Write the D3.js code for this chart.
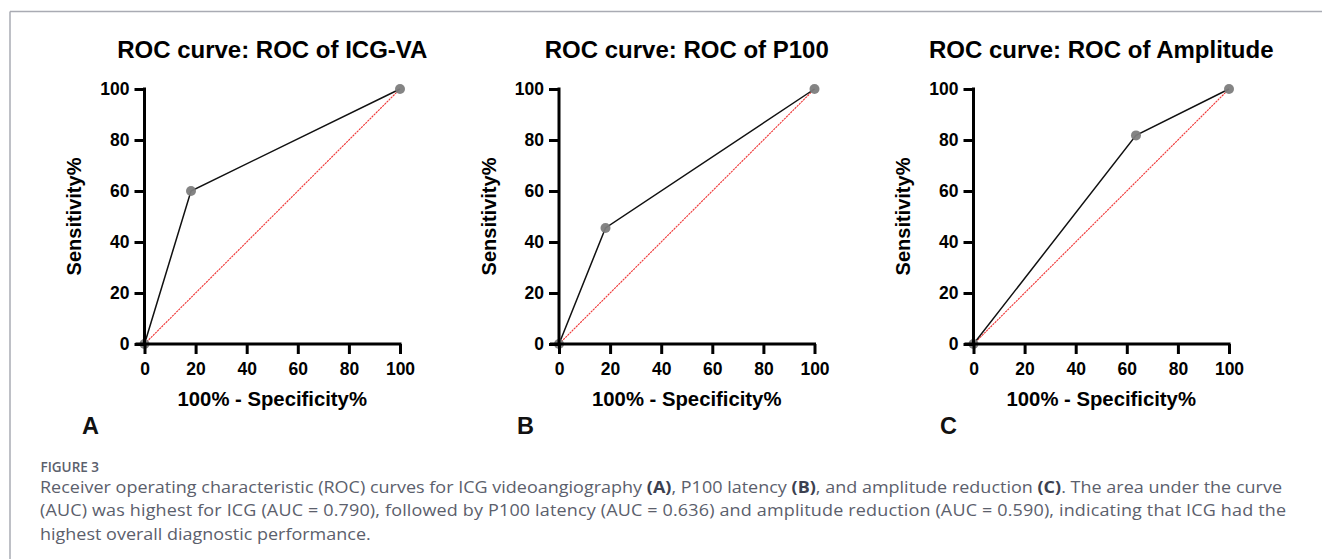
<!DOCTYPE html>
<html>
<head>
<meta charset="utf-8">
<script src="https://cdn.jsdelivr.net/npm/d3@7"></script>
<style>
  html, body { margin: 0; padding: 0; background: #fff; }
  svg { display: block; }
</style>
</head>
<body>
<svg id="chart" width="1322" height="559"></svg>
<script>
// ---- data ----
const panelTitles = ["ROC curve: ROC of ICG-VA", "ROC curve: ROC of P100", "ROC curve: ROC of Amplitude"];
const panelLetters = ["A", "B", "C"];
const fprICG = [0, 18.2, 100];
const sensICG = [0, 60, 100];
const fprP100 = [0, 18.2, 100];
const sensP100 = [0, 45.5, 100];
const fprAmp = [0, 63.6, 100];
const sensAmp = [0, 81.8, 100];
const tickValues = [0, 20, 40, 60, 80, 100];
const xLabel = "100% - Specificity%";
const yLabel = "Sensitivity%";
const captionHead = "FIGURE 3";
const captionLines = [
  [["Receiver operating characteristic (ROC) curves for ICG videoangiography ", false], ["(A)", true], [", P100 latency ", false], ["(B)", true], [", and amplitude reduction ", false], ["(C)", true], [". The area under the curve", false]],
  [["(AUC) was highest for ICG (AUC = 0.790), followed by P100 latency (AUC = 0.636) and amplitude reduction (AUC = 0.590), indicating that ICG had the", false]],
  [["highest overall diagnostic performance.", false]]
];

const series = [
  { fpr: fprICG, sens: sensICG },
  { fpr: fprP100, sens: sensP100 },
  { fpr: fprAmp, sens: sensAmp }
];

// ---- layout ----
const svg = d3.select("#chart");
const font = "'Liberation Sans', Arial, Helvetica, sans-serif";
const originsX = [144.5, 559, 973.5];
const letterX = [82, 517, 940];
const plotW = 255.5;
const yTop = 89, yBottom = 344;

// frame
svg.append("line").attr("x1", 10).attr("x2", 1322).attr("y1", 11.5).attr("y2", 11.5)
  .attr("stroke", "#a9abb3").attr("stroke-width", 1.5);
svg.append("line").attr("x1", 10).attr("x2", 10).attr("y1", 11.5).attr("y2", 559)
  .attr("stroke", "#a9abb3").attr("stroke-width", 1.5);

series.forEach((s, i) => {
  const x = d3.scaleLinear().domain([0, 100]).range([originsX[i], originsX[i] + plotW]);
  const y = d3.scaleLinear().domain([0, 100]).range([yBottom, yTop]);
  const g = svg.append("g");

  // title
  g.append("text").attr("x", (x(0) + x(100)) / 2).attr("y", 57.5)
    .attr("text-anchor", "middle").attr("font-family", font).attr("font-weight", "bold")
    .attr("font-size", 24).attr("fill", "#000").text(panelTitles[i]);

  // reference diagonal
  g.append("line").attr("x1", x(0)).attr("y1", y(0)).attr("x2", x(100)).attr("y2", y(100))
    .attr("stroke", "#ef3535").attr("stroke-width", 1.1).attr("stroke-dasharray", "2.2,0.8");

  // curve
  const pts = s.fpr.map((f, k) => [f, s.sens[k]]);
  g.append("path").datum(pts)
    .attr("d", d3.line().x(d => x(d[0])).y(d => y(d[1])))
    .attr("fill", "none").attr("stroke", "#111").attr("stroke-width", 1.5);

  // markers
  g.selectAll("circle.pt").data(pts).enter().append("circle")
    .attr("cx", d => x(d[0])).attr("cy", d => y(d[1])).attr("r", 5)
    .attr("fill", "#7d7d7d").attr("opacity", 0.95);

  // axes
  const xAxis = d3.axisBottom(x).tickValues(tickValues).tickSize(10).tickSizeOuter(0).tickPadding(9);
  const yAxis = d3.axisLeft(y).tickValues(tickValues).tickSize(10).tickSizeOuter(0).tickPadding(5);
  const gx = g.append("g").attr("transform", `translate(0,${yBottom})`).call(xAxis);
  const gy = g.append("g").attr("transform", `translate(${x(0)},0)`).call(yAxis);
  [gx, gy].forEach(a => {
    a.select(".domain").attr("stroke", "#000").attr("stroke-width", 3);
    a.selectAll(".tick line").attr("stroke", "#000").attr("stroke-width", 3);
    a.selectAll(".tick text").attr("font-family", font).attr("font-weight", "bold")
      .attr("font-size", 17.5).attr("fill", "#000");
  });
  gx.select(".domain").attr("d", `M${x(0) - 9},0H${x(100) + 1.5}`);
  gy.select(".domain").attr("d", `M0,${yBottom + 1.5}V${yTop - 1.5}`);

  // axis titles
  g.append("text").attr("x", (x(0) + x(100)) / 2).attr("y", 406)
    .attr("text-anchor", "middle").attr("font-family", font).attr("font-weight", "bold")
    .attr("font-size", 20.3).attr("fill", "#000").text(xLabel);
  g.append("text")
    .attr("transform", `translate(${x(0) - 63.5},${(y(0) + y(100)) / 2}) rotate(-90)`)
    .attr("text-anchor", "middle").attr("font-family", font).attr("font-weight", "bold")
    .attr("font-size", 20).attr("fill", "#000").text(yLabel);

  // panel letter
  g.append("text").attr("x", letterX[i]).attr("y", 434)
    .attr("font-family", font).attr("font-weight", "bold")
    .attr("font-size", 23.5).attr("fill", "#111").text(panelLetters[i]);
});

// caption
const capFont = "'Open Sans', 'Noto Sans', sans-serif";
svg.append("text").attr("x", 40.5).attr("y", 472)
  .attr("font-family", capFont).attr("font-weight", 600).attr("font-size", 13.5)
  .attr("fill", "#5b606c").text(captionHead);

const capScale = 1.09;
const capG = svg.append("g").attr("transform", `translate(40,0) scale(${capScale},1)`);
const lineY = [493, 516.5, 540.5];
const lineLen = [1242, 1246, null];
captionLines.forEach((segs, li) => {
  const t = capG.append("text").attr("x", 0).attr("y", lineY[li])
    .attr("font-family", capFont).attr("font-size", 16.5).attr("fill", "#5b606c");
  segs.forEach(([str, b]) => {
    t.append("tspan").attr("font-weight", b ? 700 : 400).attr("fill", b ? "#3c4150" : "#5b606c").text(str);
  });
  if (lineLen[li]) {
    t.attr("textLength", lineLen[li] / capScale).attr("lengthAdjust", "spacing");
  }
});
</script>
</body>
</html>
